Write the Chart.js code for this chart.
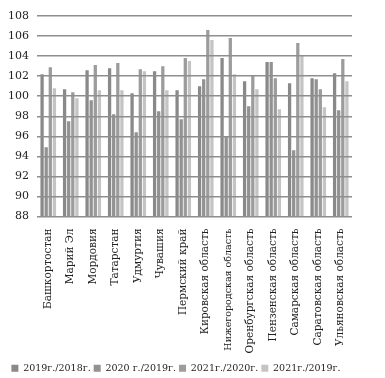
<!DOCTYPE html>
<html>
<head>
<meta charset="utf-8">
<script src="https://cdn.jsdelivr.net/npm/chart.js@4"></script>
<style>
html,body{margin:0;padding:0;background:#fff;}
canvas{display:block;}
</style>
</head>
<body>
<canvas id="c" width="385" height="378"></canvas>
<script>
const categories = ["Башкортостан","Марий Эл","Мордовия","Татарстан","Удмуртия","Чувашия","Пермский край","Кировская область","Нижегородская область","Оренбургская область","Пензенская область","Самарская область","Саратовская область","Ульяновская область"];
const seriesNames = ["2019г./2018г.","2020 г./2019г.","2021г./2020г.","2021г./2019г."];
const s2019_2018 = [102.2,100.7,102.6,102.8,100.3,102.5,100.6,101.0,103.8,101.5,103.4,101.3,101.8,102.3];
const s2020_2019 = [94.9,97.5,99.6,98.2,96.4,98.5,97.7,101.7,96.0,99.0,103.4,94.6,101.7,98.6];
const s2021_2020 = [102.9,100.4,103.1,103.3,102.7,103.0,103.8,106.6,105.8,102.1,101.8,105.3,100.7,103.7];
const s2021_2019 = [100.8,99.8,100.6,100.6,102.5,100.6,103.5,105.6,102.2,100.7,98.7,104.1,98.9,101.5];
const yTicks = [88,90,92,94,96,98,100,102,104,106,108];

const colors = ['#898989','#929292','#9c9c9c','#c4c4c4'];
const values = [s2019_2018,s2020_2019,s2021_2020,s2021_2019];
const FONT = '"DejaVu Serif", serif';

new Chart(document.getElementById('c'), {
  type: 'bar',
  data: {
    labels: categories,
    datasets: values.map((v,i)=>({
      label: seriesNames[i],
      data: v,
      backgroundColor: colors[i],
      borderWidth: 0,
      categoryPercentage: 0.73,
      barPercentage: 0.8
    }))
  },
  options: {
    responsive: false,
    animation: false,
    layout: {padding: {top: 16, right: 33, left: 0, bottom: -5}},
    plugins: {
      tooltip: {enabled: false},
      legend: {
        position: 'bottom',
        labels: {
          font: {family: FONT, size: 9.5},
          color: '#222',
          boxWidth: 7,
          boxHeight: 7,
          padding: 3
        }
      }
    },
    scales: {
      x: {
        grid: {display: false, drawTicks: false},
        border: {display: false},
        ticks: {
          minRotation: 90,
          maxRotation: 90,
          autoSkip: false,
          padding: 12,
          color: '#222',
          font: (ctx) => ({family: FONT, size: ctx.index === 8 ? 9.5 : 10.5})
        },
        afterFit: (s) => { s.height = 144; }
      },
      y: {
        min: 88,
        max: 108,
        afterBuildTicks: (s) => { s.ticks = yTicks.map(v=>({value:v})); },
        grid: {color: '#8e8e8e', lineWidth: 1.5, drawTicks: false, z: 1},
        border: {display: false},
        ticks: {
          padding: 8,
          color: '#222',
          font: {family: FONT, size: 11}
        },
        afterFit: (s) => { s.width = 37; }
      }
    }
  }
});
</script>
</body>
</html>
